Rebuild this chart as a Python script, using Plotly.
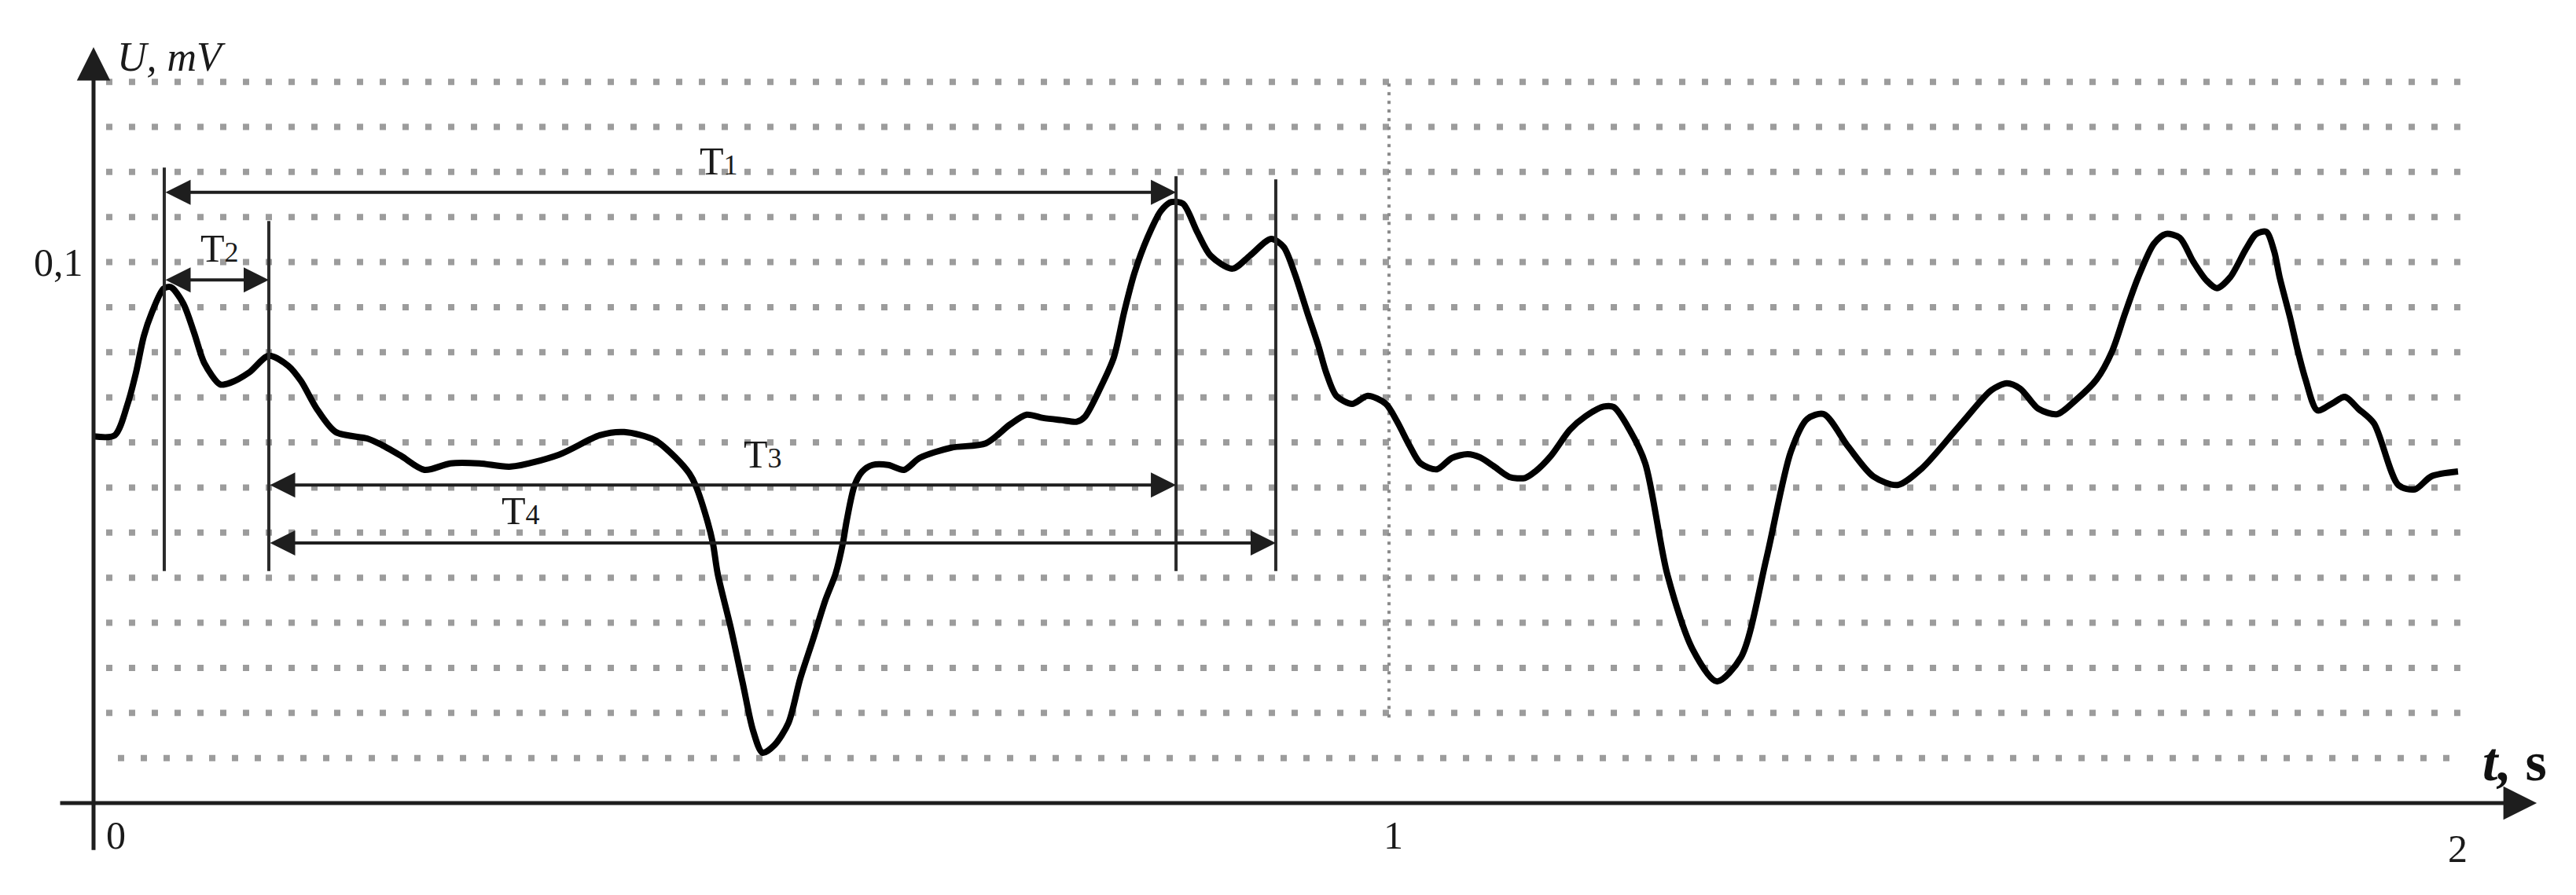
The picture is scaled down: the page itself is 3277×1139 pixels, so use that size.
import plotly.graph_objects as go

# ---- signal (t in s, U in mV) ----
t_s = [0.0, 0.0164, 0.0267, 0.0328, 0.0388, 0.0449, 0.0540, 0.0595, 0.0692, 0.0777,
       0.0856, 0.0977, 0.1056, 0.1201, 0.1353, 0.1505, 0.1602, 0.1723, 0.1869, 0.2112,
       0.2209, 0.2373, 0.2555, 0.2755, 0.2979, 0.3222, 0.3592, 0.3908, 0.4096, 0.4333,
       0.4496, 0.4600, 0.4648, 0.4739, 0.4782, 0.4818, 0.4921, 0.5012, 0.5091, 0.5164,
       0.5255, 0.5364, 0.5455, 0.5552, 0.5649, 0.5728, 0.5783, 0.5813, 0.5874, 0.5934,
       0.6013, 0.6135, 0.6256, 0.6377, 0.6620, 0.6887, 0.7075, 0.7203, 0.7330, 0.7470,
       0.7591, 0.7652, 0.7773, 0.7876, 0.7955, 0.8034, 0.8137, 0.8240, 0.8319, 0.8410,
       0.8519, 0.8623, 0.8792, 0.8926, 0.9090, 0.9187, 0.9272, 0.9369, 0.9454, 0.9515,
       0.9593, 0.9715, 0.9836, 0.9976, 1.0061, 1.0158, 1.0243, 1.0370, 1.0485, 1.0607,
       1.0704, 1.0807, 1.0928, 1.1050, 1.1129, 1.1250, 1.1396, 1.1517, 1.1657, 1.1735,
       1.1857, 1.1978, 1.2148, 1.2342, 1.2530, 1.2718, 1.2913, 1.3101, 1.3228, 1.3356,
       1.3544, 1.3738, 1.3926, 1.4114, 1.4369, 1.4448, 1.4648, 1.4769, 1.4873, 1.5012,
       1.5158, 1.5297, 1.5461, 1.5583, 1.5680, 1.5783, 1.5904, 1.5995, 1.6104, 1.6208,
       1.6311, 1.6390, 1.6493, 1.6614, 1.6693, 1.6772, 1.6833, 1.6875, 1.6954, 1.7015,
       1.7075, 1.7166, 1.7282, 1.7379, 1.7482, 1.7603, 1.7791, 1.7919, 1.8046, 1.8252]
u_mv = [0.0678, 0.0680, 0.0741, 0.0796, 0.0863, 0.0906, 0.0951, 0.0954, 0.0924, 0.0869,
        0.0813, 0.0774, 0.0777, 0.0796, 0.0827, 0.0808, 0.0780, 0.0729, 0.0686, 0.0674,
        0.0664, 0.0642, 0.0616, 0.0628, 0.0628, 0.0622, 0.0644, 0.0680, 0.0686, 0.0671,
        0.0638, 0.0609, 0.0587, 0.0521, 0.0479, 0.0424, 0.0322, 0.0221, 0.0134, 0.0093,
        0.0107, 0.0148, 0.0230, 0.0301, 0.0375, 0.0424, 0.0479, 0.0521, 0.0587, 0.0613,
        0.0625, 0.0625, 0.0616, 0.0638, 0.0657, 0.0665, 0.0700, 0.0718, 0.0712, 0.0708,
        0.0705, 0.0714, 0.0768, 0.0824, 0.0907, 0.0979, 0.1046, 0.1095, 0.1111, 0.1108,
        0.1056, 0.1012, 0.0988, 0.1012, 0.1043, 0.1028, 0.0979, 0.0907, 0.0846, 0.0796,
        0.0753, 0.0738, 0.0753, 0.0738, 0.0706, 0.0661, 0.0628, 0.0617, 0.0638, 0.0645,
        0.0639, 0.0623, 0.0603, 0.0601, 0.0613, 0.0642, 0.0690, 0.0715, 0.0733, 0.0732,
        0.0690, 0.0628, 0.0423, 0.0285, 0.0225, 0.0270, 0.0452, 0.0649, 0.0710, 0.0719,
        0.0659, 0.0604, 0.0588, 0.0619, 0.0688, 0.0710, 0.0763, 0.0776, 0.0766, 0.0729,
        0.0719, 0.0744, 0.0783, 0.0836, 0.0904, 0.0972, 0.1034, 0.1052, 0.1045, 0.1001,
        0.0966, 0.0952, 0.0972, 0.1024, 0.1052, 0.1056, 0.1020, 0.0972, 0.0899, 0.0836,
        0.0783, 0.0726, 0.0739, 0.0751, 0.0729, 0.0702, 0.0588, 0.0580, 0.0604, 0.0613]

# dotted horizontal levels (mV)
grid_levels = [0.00833, 0.01667, 0.02500, 0.03333, 0.04167, 0.05000, 0.05833, 0.06667,
               0.07500, 0.08333, 0.09167, 0.10000, 0.10833, 0.11667, 0.12500, 0.13333]

# interval markers (s)
t_peak1 = 0.0546
t_peak2 = 0.1353
t_peak3 = 0.8356
t_peak4 = 0.9126
intervals = [  # label, subscript, start, end, level (mV)
    ("T", "1", t_peak1, t_peak3, 0.1129),
    ("T", "2", t_peak1, t_peak2, 0.0967),
    ("T", "3", t_peak2, t_peak3, 0.0588),
    ("T", "4", t_peak2, t_peak4, 0.0481),
]
label_pos = [(0.483, 0.1187), (0.0971, 0.1026), (0.5164, 0.0645), (0.330, 0.0540)]

x_ticks = [0.0170, 1.0036, 1.8252]
x_tick_text = ["0", "1", "2"]
x_tick_y = [-0.0060, -0.0060, -0.0084]

FONT = "Liberation Serif"
fig = go.Figure()

# dotted grid rows
gx, gy = [], []
for i, lv in enumerate(grid_levels):
    x0 = 0.0188 if i == 0 else 0.0097
    gx += [x0, 1.827, None]
    gy += [lv, lv, None]
fig.add_trace(go.Scatter(x=gx, y=gy, mode="lines", hoverinfo="skip",
                         line=dict(color="#9c9c9c", width=8, dash="8px,21px")))

# dotted vertical at t = 1
fig.add_trace(go.Scatter(x=[1.0, 1.0], y=[0.0158, 0.1335], mode="lines", hoverinfo="skip",
                         line=dict(color="#8a8a8a", width=4, dash="4px,7px")))

# signal
fig.add_trace(go.Scatter(x=t_s, y=u_mv, mode="lines", hoverinfo="skip",
                         line=dict(color="#000000", width=8, shape="spline", smoothing=0.8)))

shapes = []
for tv, top in [(t_peak1, 0.1175), (t_peak2, 0.1076), (t_peak3, 0.1159), (t_peak4, 0.1153)]:
    shapes.append(dict(type="line", xref="x", yref="y", x0=tv, x1=tv, y0=0.0429, y1=top,
                       line=dict(color="#2a2a2a", width=4)))

annotations = []
for (lab, sub, a, b, lv), (lx, ly) in zip(intervals, label_pos):
    annotations.append(dict(x=b, y=lv, ax=a, ay=lv, xref="x", yref="y", axref="x", ayref="y",
                            text="", showarrow=True, arrowhead=2, startarrowhead=2,
                            arrowside="end+start", arrowsize=1.6, startarrowsize=1.6,
                            arrowwidth=4, arrowcolor="#1e1e1e", standoff=0, startstandoff=0))
    annotations.append(dict(x=lx, y=ly, xref="x", yref="y", showarrow=False,
                            text=lab + '<span style="font-size:36px">' + sub + "</span>",
                            font=dict(family=FONT, size=50, color="#1a1a1a")))

# axes with arrows
annotations.append(dict(x=0.0, y=0.13975, ax=0.0, ay=-0.0089, xref="x", yref="y", axref="x", ayref="y",
                        text="", showarrow=True, arrowhead=2, arrowsize=1.7, arrowwidth=5,
                        arrowcolor="#1e1e1e", standoff=0))
annotations.append(dict(x=1.886, y=0.0, ax=-0.0267, ay=0.0, xref="x", yref="y", axref="x", ayref="y",
                        text="", showarrow=True, arrowhead=2, arrowsize=1.7, arrowwidth=5,
                        arrowcolor="#1e1e1e", standoff=0))

for xv, tx, yv in zip(x_ticks, x_tick_text, x_tick_y):
    annotations.append(dict(x=xv, y=yv, xref="x", yref="y", showarrow=False, text=tx,
                            font=dict(family=FONT, size=50, color="#1a1a1a")))
annotations.append(dict(x=-0.0273, y=0.1, xref="x", yref="y", showarrow=False, text="0,1",
                        font=dict(family=FONT, size=50, color="#1a1a1a")))
annotations.append(dict(x=0.060, y=0.1379, xref="x", yref="y", showarrow=False, text="<i>U, mV</i>",
                        font=dict(family=FONT, size=52, color="#1a1a1a")))
annotations.append(dict(x=1.869, y=0.0076, xref="x", yref="y", showarrow=False,
                        text="<b><i>t,</i> s</b>",
                        font=dict(family=FONT, size=70, color="#111111")))

# the page body adds an 8 px margin, so the figure is 16 px smaller and the
# axis ranges are chosen so that marks land where they are in the reference
fig.update_layout(
    width=3261, height=1123,
    margin=dict(l=0, r=0, t=0, b=0),
    paper_bgcolor="white", plot_bgcolor="white",
    showlegend=False,
    xaxis=dict(range=[-0.06735, 1.91141], visible=False, fixedrange=True),
    yaxis=dict(range=[-0.01583, 0.14730], visible=False, fixedrange=True),
    shapes=shapes, annotations=annotations,
)

fig.write_html("out.html")
